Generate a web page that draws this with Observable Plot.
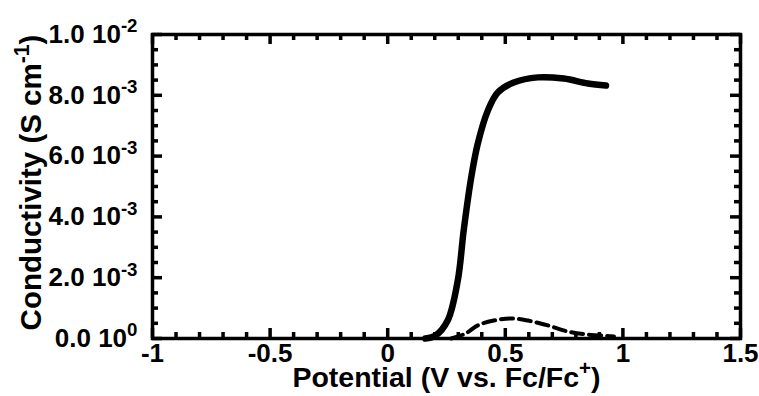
<!DOCTYPE html>
<html>
<head>
<meta charset="utf-8">
<script src="https://cdn.jsdelivr.net/npm/d3@7"></script>
<script src="https://cdn.jsdelivr.net/npm/@observablehq/plot@0.6"></script>
<style>
  html, body { margin: 0; padding: 0; background: #fff; }
</style>
</head>
<body>
<div id="chart"></div>
<script>
// Solid curve (conductivity vs potential)
const solidPotential = [0.16, 0.204, 0.255, 0.298, 0.323, 0.353, 0.383, 0.426, 0.468, 0.536, 0.638, 0.749, 0.851, 0.928];
const solidConductivity = [0.0, 0.0001, 0.00059, 0.00191, 0.00355, 0.0052, 0.00641, 0.0075, 0.00809, 0.00842, 0.00859, 0.00855, 0.00839, 0.00832];

// Dashed curve
const dashedPotential = [0.27, 0.33, 0.383, 0.451, 0.523, 0.596, 0.681, 0.766, 0.851, 0.962];
const dashedConductivity = [0.0, 0.00016, 0.00043, 0.00059, 0.00066, 0.00059, 0.00043, 0.00023, 0.00013, 0.00007];

// Axes
const xDomain = [-1, 1.5];
const yDomain = [0, 0.01];
const xTickValues = [-1, -0.5, 0, 0.5, 1, 1.5];
const xTickLabels = ["-1", "-0.5", "0", "0.5", "1", "1.5"];
const yTickValues = [0, 0.002, 0.004, 0.006, 0.008, 0.01];
const yTickLabels = ["0.0 10^{0}", "2.0 10^{-3}", "4.0 10^{-3}", "6.0 10^{-3}", "8.0 10^{-3}", "1.0 10^{-2}"];
const xTitle = "Potential (V vs. Fc/Fc^{+})";
const yTitle = "Conductivity (S cm^{-1})";

const solid = solidPotential.map((x, i) => ({x, y: solidConductivity[i]}));
const dashed = dashedPotential.map((x, i) => ({x, y: dashedConductivity[i]}));

const W = 759, H = 396;
const mL = 152, mR = 19, mT = 34, mB = 58;
const plotW = W - mL - mR, plotH = H - mT - mB;
const majorLen = 10, minorLen = 6;

const xMinor = d3.range(-10, 16).map(k => k / 10).filter(v => !xTickValues.some(t => Math.abs(t - v) < 1e-9));
const yMinor = d3.range(0, 21).map(k => k * 0.0005).filter(v => !yTickValues.some(t => Math.abs(t - v) < 1e-9));

const tickStyle = {stroke: "#000", strokeWidth: 3.5};

const chart = Plot.plot({
  width: W,
  height: H,
  marginLeft: mL,
  marginRight: mR,
  marginTop: mT,
  marginBottom: mB,
  style: {fontFamily: "'Liberation Sans', Arial, Helvetica, sans-serif", fontWeight: "bold", fontSize: "26px", color: "#000", background: "#fff"},
  x: {domain: xDomain, axis: null},
  y: {domain: yDomain, axis: null},
  marks: [
    // inward ticks: left/right
    Plot.tickY(yTickValues, {y: d => d, insetRight: plotW - majorLen, ...tickStyle}),
    Plot.tickY(yMinor, {y: d => d, insetRight: plotW - minorLen, ...tickStyle}),
    Plot.tickY(yTickValues, {y: d => d, insetLeft: plotW - majorLen, ...tickStyle}),
    Plot.tickY(yMinor, {y: d => d, insetLeft: plotW - minorLen, ...tickStyle}),
    // inward ticks: bottom/top
    Plot.tickX(xTickValues, {x: d => d, insetTop: plotH - majorLen, ...tickStyle}),
    Plot.tickX(xMinor, {x: d => d, insetTop: plotH - minorLen, ...tickStyle}),
    Plot.tickX(xTickValues, {x: d => d, insetBottom: plotH - majorLen, ...tickStyle}),
    Plot.tickX(xMinor, {x: d => d, insetBottom: plotH - minorLen, ...tickStyle}),
    Plot.frame({stroke: "#000", strokeWidth: 3.5}),
    // tick labels
    Plot.text(yTickValues, {y: d => d, text: d => yTickLabels[yTickValues.indexOf(d)], frameAnchor: "left", textAnchor: "end", lineAnchor: "middle", dx: -15, fontSize: 26, fill: "#000"}),
    Plot.text(xTickValues, {x: d => d, text: d => xTickLabels[xTickValues.indexOf(d)], frameAnchor: "bottom", textAnchor: "middle", lineAnchor: "top", dy: 5, fontSize: 26, fill: "#000"}),
    Plot.line(dashed, {x: "x", y: "y", stroke: "#000", strokeWidth: 4, strokeDasharray: "12,6", curve: "catmull-rom"}),
    Plot.line(solid, {x: "x", y: "y", stroke: "#000", strokeWidth: 6.5, curve: "catmull-rom"}),
    Plot.text([xTitle], {text: d => d, frameAnchor: "bottom", textAnchor: "middle", lineAnchor: "middle", dy: 39, fontSize: 28.5, fill: "#000"}),
    Plot.text([yTitle], {text: d => d, frameAnchor: "left", textAnchor: "middle", lineAnchor: "middle", rotate: -90, dx: -121, dy: -4, fontSize: 29.5, fill: "#000"})
  ]
});

document.getElementById("chart").appendChild(chart);

function supify(el) {
  const s = el.textContent;
  if (!s.includes("^{")) return;
  const fs = parseFloat(getComputedStyle(el).fontSize) || 26;
  const parts = s.split(/\^\{([^}]*)\}/);
  while (el.firstChild) el.removeChild(el.firstChild);
  const raise = fs * 0.4;
  parts.forEach((p, i) => {
    if (p === "") return;
    const t = document.createElementNS("http://www.w3.org/2000/svg", "tspan");
    t.textContent = p;
    if (i % 2 === 1) {
      t.setAttribute("font-size", (fs * 0.72).toFixed(1));
      t.setAttribute("dy", (-raise).toFixed(1));
    } else if (i > 0) {
      t.setAttribute("dy", raise.toFixed(1));
    }
    el.appendChild(t);
  });
}
chart.querySelectorAll("text").forEach(supify);
</script>
</body>
</html>
